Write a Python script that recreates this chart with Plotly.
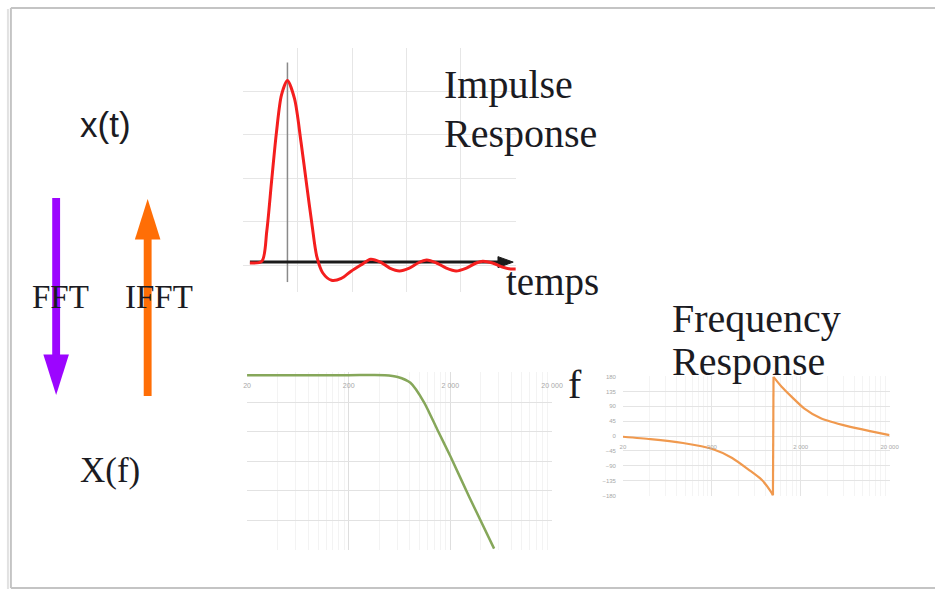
import math
import plotly.graph_objects as go

W, H = 935, 594

# ---------------- data ----------------
# Impulse response (time, normalised amplitude)
imp_t = [-0.69, -0.47, -0.38, -0.29, -0.20, -0.11, 0.0, 0.13, 0.25, 0.36, 0.45, 0.54,
         0.65, 0.81, 0.99, 1.17, 1.35, 1.53, 1.71, 1.88, 2.06, 2.24, 2.40, 2.56,
         2.74, 2.92, 3.10, 3.29, 3.47, 3.59, 3.77, 3.95, 4.10, 4.22]
imp_a = [-0.005, 0.005, 0.17, 0.45, 0.72, 0.92, 1.0, 0.90, 0.66, 0.41, 0.21, 0.03,
         -0.06, -0.10, -0.09, -0.05, -0.016, 0.016, 0.0, -0.033, -0.049, -0.033, -0.005, 0.011,
         -0.005, -0.033, -0.049, -0.033, -0.005, 0.005, -0.005, -0.027, -0.038, -0.038]

# Magnitude response (Hz, dB)
mag_f = [20, 200, 453, 606, 809, 1105, 1477, 2000, 3083, 5383]
mag_db = [-0.7, -0.7, -0.7, -1.3, -3.3, -10.0, -19.0, -28.3, -42.3, -59.7]

# Phase response (Hz, degrees) - two branches around the wrap
ph_f_lo = [20, 40.8, 94.8, 203.6, 339, 523, 728, 940, 975]
ph_lo = [-2, -9, -21, -39, -66, -102, -132, -171, -179]
ph_f_hi = [990, 1015, 1213, 1566, 2183, 3367, 6700, 12050, 20000]
ph_hi = [179, 175, 150, 120, 84, 54, 30, 15, 3]

freq_ticks = [20, 200, 2000, 20000]
freq_labels = ["20", "200", "2 000", "20 000"]
phase_ticks = [-180, -135, -90, -45, 0, 45, 90, 135, 180]

# ---------------- helpers ----------------
def px(x):
    return x / W

def py(y):
    return 1 - y / H

minor_f = [20 * 10 ** k * m for k in range(0, 3) for m in [2, 3, 4, 5, 6, 7, 8, 9]]

RED = "#f41e1e"
GREEN = "#86a75a"
ORANGE = "#f0994e"
GRID = "#e6e6e6"

fig = go.Figure()

fig.add_trace(go.Scatter(x=imp_t, y=imp_a, mode="lines", line=dict(color=RED, width=3, shape="spline", smoothing=0.8),
                         xaxis="x", yaxis="y", hoverinfo="skip"))
fig.add_trace(go.Scatter(x=mag_f, y=mag_db, mode="lines", line=dict(color=GREEN, width=2.5, shape="spline", smoothing=0.6),
                         xaxis="x2", yaxis="y2", hoverinfo="skip"))
fig.add_trace(go.Scatter(x=ph_f_lo, y=ph_lo, mode="lines", line=dict(color=ORANGE, width=2.2, shape="spline", smoothing=0.6),
                         xaxis="x3", yaxis="y3", hoverinfo="skip"))
fig.add_trace(go.Scatter(x=[ph_f_lo[-1], ph_f_hi[0]], y=[ph_lo[-1], ph_hi[0]], mode="lines",
                         line=dict(color=ORANGE, width=2.2), xaxis="x3", yaxis="y3", hoverinfo="skip"))
fig.add_trace(go.Scatter(x=ph_f_hi, y=ph_hi, mode="lines", line=dict(color=ORANGE, width=2.2, shape="spline", smoothing=0.6),
                         xaxis="x3", yaxis="y3", hoverinfo="skip"))

lr = [math.log10(20), math.log10(20000)]
tickfont = dict(size=7, color="#a8a8a8", family="Liberation Sans")

fig.update_layout(
    width=W, height=H, margin=dict(l=0, r=0, t=0, b=0),
    paper_bgcolor="white", plot_bgcolor="white", showlegend=False,
    xaxis=dict(domain=[px(243), px(520)], range=[-0.815, 4.195], tick0=0.19, dtick=1.0,
               showticklabels=False, zeroline=False, showline=False, gridcolor=GRID, ticks=""),
    yaxis=dict(domain=[py(292), py(45)], range=[-0.165, 1.182], tick0=-0.016, dtick=0.239,
               showticklabels=False, zeroline=False, showline=False, gridcolor=GRID, ticks=""),
    xaxis2=dict(domain=[px(247), px(557)], type="log", range=lr, anchor="free", position=py(373),
                tickmode="array", tickvals=freq_ticks, ticktext=freq_labels,
                tickfont=tickfont, ticklabelstandoff=8,
                showgrid=True, gridcolor="#dedede", zeroline=False, showline=False, ticks="",
                minor=dict(tickmode="array", tickvals=minor_f, showgrid=True, gridcolor="#f3f3f3", ticks="")),
    yaxis2=dict(domain=[py(553), py(373)], range=[-60.3, 0.3], dtick=10, anchor="x2",
                showticklabels=False, zeroline=False, showline=False, gridcolor="#e2e2e2", ticks=""),
    xaxis3=dict(domain=[px(629), px(900)], type="log", range=lr, anchor="free", position=py(438),
                tickmode="array", tickvals=freq_ticks, ticktext=freq_labels,
                tickfont=dict(size=6, color="#a8a8a8", family="Liberation Sans"), ticklabelstandoff=5,
                showgrid=True, gridcolor="#e4e4e4", zeroline=False, showline=False, ticks="",
                minor=dict(tickmode="array", tickvals=minor_f, showgrid=True, gridcolor="#f4f4f4", ticks="")),
    yaxis3=dict(domain=[py(498), py(377)], range=[-181, 181], tickmode="array", tickvals=phase_ticks,
                ticksuffix="°", anchor="x3", ticklabelstandoff=6,
                tickfont=dict(size=6, color="#a8a8a8", family="Liberation Sans"),
                zeroline=False, showline=False, gridcolor="#e4e4e4", ticks=""),
)

shapes = []
# slide frame (left, top, bottom edges; the right edge is off the picture)
FRAME = dict(color="#c4c4c4", width=2)
shapes.append(dict(type="line", xref="paper", yref="paper", x0=px(7), x1=px(7), y0=py(591), y1=py(5), line=FRAME, layer="below"))
shapes.append(dict(type="line", xref="paper", yref="paper", x0=px(7), x1=1.5, y0=py(5), y1=py(5), line=FRAME, layer="below"))
shapes.append(dict(type="line", xref="paper", yref="paper", x0=px(7), x1=1.5, y0=py(591), y1=py(591), line=FRAME, layer="below"))
shapes.append(dict(type="line", xref="paper", yref="paper", x0=px(4), x1=px(4), y0=py(592), y1=py(6),
                   line=dict(color="#e2e2e2", width=2), layer="below"))
# impulse plot axes
shapes.append(dict(type="line", xref="x", yref="y", x0=0, x1=0, y0=-0.11, y1=1.10,
                   line=dict(color="#8a8a8a", width=1.5), layer="between"))
shapes.append(dict(type="line", xref="x", yref="y", x0=-0.69, x1=3.95, y0=0, y1=0,
                   line=dict(color="#1a1a1a", width=3), layer="between"))
shapes.append(dict(type="path", xref="x", yref="y", path="M 3.87,0.03 L 4.15,0 L 3.87,-0.03 Z",
                   fillcolor="#1a1a1a", line=dict(color="#1a1a1a", width=1), layer="between"))


def poly(pts):
    return "M " + " L ".join(f"{px(a):.5f},{py(b):.5f}" for a, b in pts) + " Z"

PURPLE = "#9c05ff"
ORANGE2 = "#ff6e06"
# FFT arrow (down)
shapes.append(dict(type="path", xref="paper", yref="paper",
                   path=poly([(49, 197), (57, 197), (57, 357), (49, 357)]),
                   fillcolor=PURPLE, line=dict(width=0), layer="above"))
shapes.append(dict(type="path", xref="paper", yref="paper",
                   path=poly([(40, 355), (66, 355), (53, 396)]),
                   fillcolor=PURPLE, line=dict(width=0), layer="above"))
# IFFT arrow (up)
shapes.append(dict(type="path", xref="paper", yref="paper",
                   path=poly([(142, 236), (150, 236), (150, 397), (142, 397)]),
                   fillcolor=ORANGE2, line=dict(width=0), layer="above"))
shapes.append(dict(type="path", xref="paper", yref="paper",
                   path=poly([(133, 239), (159, 239), (146, 198)]),
                   fillcolor=ORANGE2, line=dict(width=0), layer="above"))
fig.update_layout(shapes=shapes)

SERIF = "Liberation Serif"
TXT = "#1b1b22"
ann = []

def label(text, x, y, size, family=SERIF):
    ann.append(dict(text=text, x=px(x), y=py(y), xref="paper", yref="paper", xanchor="left",
                    yanchor="middle", showarrow=False, font=dict(family=family, size=size, color=TXT)))

label("Impulse", 445, 82, 40)
label("Response", 445, 132, 40)
label("temps", 508, 282, 39)
label("Frequency", 677, 319, 40)
label("Response", 677, 362, 40)
label("f", 571, 385, 40)
label("x(t)", 75, 123, 35, "Liberation Sans")
label("X(f)", 75, 472, 35)
label("FFT", 26, 297, 33)
label("IFFT", 121, 297, 33)
fig.update_layout(annotations=ann)

fig.write_html(
    "out.html", config={"displayModeBar": False},
    post_script=(
        "document.documentElement.style.margin='0px';"
        "document.body.style.margin='0px';"
        "document.documentElement.style.overflow='hidden';"
        "document.body.style.overflow='hidden';"
    ),
)
